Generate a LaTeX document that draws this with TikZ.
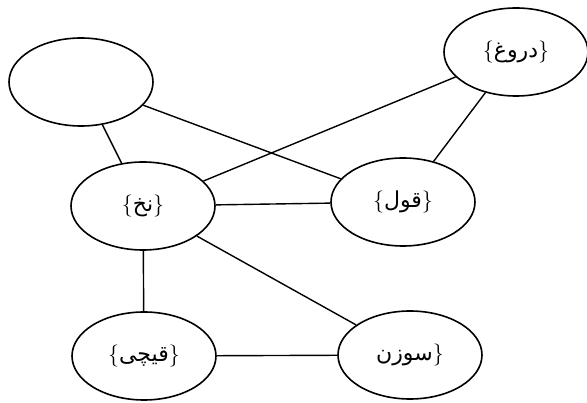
\documentclass[tikz,border=0pt]{standalone}
\usepackage{fontspec}
\usetikzlibrary{shapes.geometric}
\TeXXeTstate=1
\newfontfamily\arabicfont[Script=Arabic]{DejaVu Sans}
\newcommand{\fa}[1]{{\arabicfont\beginR #1\endR}}
\begin{document}
\begin{tikzpicture}[x=1pt,y=-1pt,
  ell/.style={ellipse,draw,line width=1.6pt,minimum width=144pt,minimum height=88pt,inner sep=0pt},
  link/.style={line width=1.4pt},
  lbl/.style={font=\fontsize{22}{26}\selectfont}]
\useasboundingbox (0,0) rectangle (587,403);
\node[ell] (empty) at (81,82) {};
\node[ell,lbl] (dorugh) at (516,52) {\{\fa{دروغ}\}};
\node[ell,lbl] (nakh) at (143,206) {\{\fa{نخ}\}};
\node[ell,lbl] (qowl) at (403,202) {\{\fa{قول}\}};
\node[ell,lbl] (qeychi) at (144,356) {\{\fa{قیچی}\}};
\node[ell,lbl] (suzan) at (410,355) {\fa{سوزن}\}};
\draw[link] (empty) -- (nakh);
\draw[link] (empty) -- (qowl);
\draw[link] (dorugh) -- (nakh);
\draw[link] (dorugh) -- (qowl);
\draw[link] (nakh) -- (qowl);
\draw[link] (nakh) -- (qeychi);
\draw[link] (nakh) -- (suzan);
\draw[link] (qeychi) -- (suzan);
\end{tikzpicture}
\end{document}
